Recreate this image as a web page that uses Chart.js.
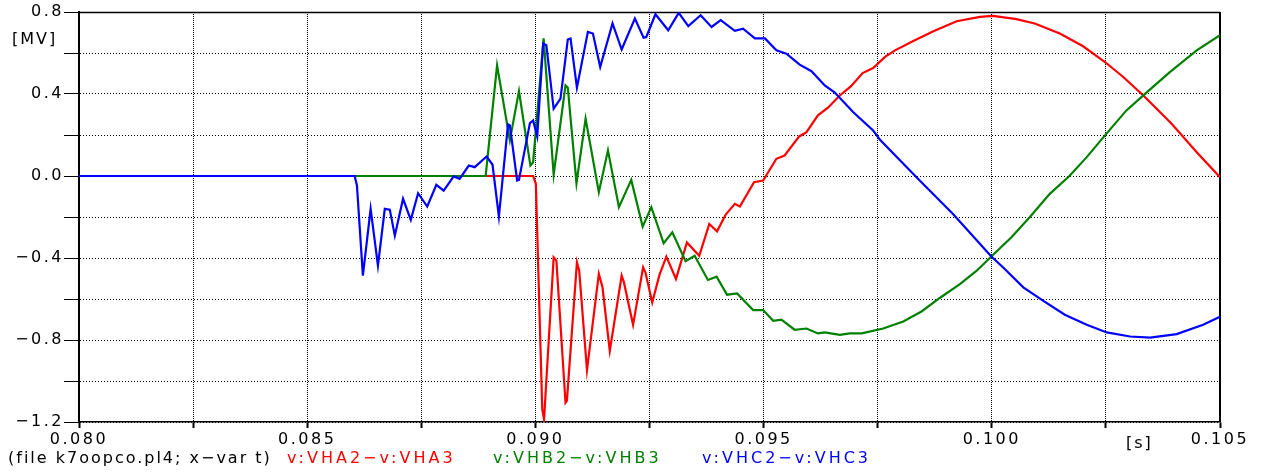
<!DOCTYPE html>
<html>
<head>
<meta charset="utf-8">
<script src="https://cdn.jsdelivr.net/npm/chart.js@4/dist/chart.umd.min.js"></script>
<style>
  html, body { margin: 0; padding: 0; background: #fff; }
  #wrap { position: relative; width: 1271px; height: 475px; overflow: hidden; }
  #plot { position: absolute; left: 0; top: 0; }
  .lbl {
    position: absolute;
    font-family: "DejaVu Sans", sans-serif;
    font-size: 16px;
    line-height: 16px;
    letter-spacing: 2px;
    white-space: nowrap;
  }
  .series { letter-spacing: 3px; }
</style>
</head>
<body>
<div id="wrap">
  <canvas id="plot" width="1271" height="475"></canvas>
  <div class="lbl" style="left:12px; top:31px;">[MV]</div>
  <div class="lbl" style="left:1126px; top:435px;">[s]</div>
  <div class="lbl" style="left:8px; top:450px;">(file k7oopco.pl4; x−var t)</div>
  <div class="lbl series" style="left:287px; top:450px; color:#ff0000;">v:VHA2−v:VHA3</div>
  <div class="lbl series" style="left:493px; top:450px; color:#008000;">v:VHB2−v:VHB3</div>
  <div class="lbl series" style="left:702px; top:450px; color:#0000ff;">v:VHC2−v:VHC3</div>
</div>
<script>
// time [s], voltage [MV]
const VHA = [
  [0.0800, 0], [0.08995, 0], [0.09001, -0.038], [0.09015, -1.138], [0.09019, -1.187],
  [0.09040, -0.397], [0.09046, -0.413], [0.09066, -1.106], [0.09069, -1.097], [0.09091, -0.421],
  [0.09096, -0.462], [0.09113, -0.947], [0.09139, -0.478], [0.09147, -0.543], [0.09163, -0.853],
  [0.09189, -0.486], [0.09194, -0.519], [0.09214, -0.726], [0.09236, -0.446], [0.09241, -0.470],
  [0.09256, -0.617], [0.09272, -0.481], [0.09287, -0.393], [0.09308, -0.502], [0.09332, -0.324],
  [0.09359, -0.389], [0.09381, -0.234], [0.09398, -0.270], [0.09417, -0.188], [0.09437, -0.136],
  [0.09448, -0.149], [0.09479, -0.030], [0.09499, -0.022], [0.09528, 0.084], [0.09546, 0.100],
  [0.09578, 0.193], [0.09594, 0.214], [0.09619, 0.296], [0.09641, 0.333], [0.09667, 0.393],
  [0.09691, 0.437], [0.09717, 0.502], [0.09740, 0.527], [0.09766, 0.581], [0.09788, 0.613],
  [0.09828, 0.659], [0.09872, 0.706], [0.09923, 0.755], [0.09974, 0.776], [0.10003, 0.781],
  [0.10054, 0.765], [0.10094, 0.744], [0.10149, 0.695], [0.10200, 0.633], [0.10248, 0.556],
  [0.10288, 0.483], [0.10332, 0.393], [0.10394, 0.255], [0.10449, 0.116], [0.10500, -0.006]
];

const VHB = [
  [0.0800, 0], [0.08891, 0], [0.08916, 0.540], [0.08944, 0.174], [0.08964, 0.414],
  [0.08989, 0.051], [0.08995, 0.067], [0.09018, 0.671], [0.09040, 0.007], [0.09066, 0.442],
  [0.09071, 0.431], [0.09090, -0.035], [0.09110, 0.280], [0.09139, -0.079], [0.09159, 0.125],
  [0.09183, -0.152], [0.09210, -0.019], [0.09235, -0.247], [0.09254, -0.152], [0.09281, -0.328],
  [0.09300, -0.275], [0.09329, -0.416], [0.09349, -0.389], [0.09378, -0.507], [0.09397, -0.491],
  [0.09420, -0.579], [0.09442, -0.573], [0.09477, -0.654], [0.09499, -0.654], [0.09521, -0.706],
  [0.09539, -0.701], [0.09568, -0.750], [0.09594, -0.744], [0.09619, -0.768], [0.09634, -0.763],
  [0.09667, -0.775], [0.09689, -0.768], [0.09715, -0.768], [0.09762, -0.744], [0.09806, -0.710],
  [0.09846, -0.661], [0.09886, -0.595], [0.09930, -0.527], [0.09967, -0.462], [0.09999, -0.393],
  [0.10043, -0.299], [0.10083, -0.201], [0.10127, -0.087], [0.10170, 0.000], [0.10208, 0.092],
  [0.10248, 0.198], [0.10295, 0.320], [0.10332, 0.393], [0.10390, 0.507], [0.10449, 0.613],
  [0.10500, 0.687]
];

const VHC = [
  [0.0800, 0], [0.08604, 0], [0.08609, -0.046], [0.08622, -0.486], [0.08639, -0.160],
  [0.08655, -0.437], [0.08670, -0.160], [0.08681, -0.164], [0.08692, -0.291], [0.08710, -0.111],
  [0.08727, -0.214], [0.08743, -0.084], [0.08763, -0.149], [0.08783, -0.043], [0.08799, -0.071],
  [0.08821, -0.002], [0.08834, -0.014], [0.08854, 0.051], [0.08867, 0.043], [0.08893, 0.095],
  [0.08906, 0.056], [0.08920, -0.198], [0.08940, 0.252], [0.08944, 0.247], [0.08960, -0.022],
  [0.08964, -0.019], [0.08988, 0.258], [0.08995, 0.271], [0.09004, 0.193], [0.09017, 0.646],
  [0.09024, 0.638], [0.09040, 0.328], [0.09055, 0.377], [0.09071, 0.666], [0.09077, 0.671],
  [0.09091, 0.431], [0.09115, 0.703], [0.09126, 0.695], [0.09142, 0.532], [0.09169, 0.744],
  [0.09189, 0.617], [0.09218, 0.768], [0.09237, 0.675], [0.09243, 0.678], [0.09263, 0.789],
  [0.09291, 0.711], [0.09314, 0.796], [0.09335, 0.731], [0.09362, 0.784], [0.09386, 0.727],
  [0.09406, 0.760], [0.09437, 0.708], [0.09455, 0.719], [0.09481, 0.671], [0.09503, 0.671],
  [0.09528, 0.613], [0.09550, 0.597], [0.09579, 0.543], [0.09605, 0.511], [0.09634, 0.442],
  [0.09656, 0.407], [0.09696, 0.312], [0.09740, 0.222], [0.09755, 0.177], [0.09842, -0.022],
  [0.09915, -0.185], [0.09999, -0.393], [0.10025, -0.446], [0.10069, -0.543], [0.10113, -0.609],
  [0.10160, -0.677], [0.10208, -0.726], [0.10252, -0.763], [0.10303, -0.783], [0.10347, -0.788],
  [0.10405, -0.771], [0.10463, -0.726], [0.10500, -0.687]
];

const X_MIN = 0.080, X_MAX = 0.105, X_STEP = 0.0025;
const Y_MIN = -1.2, Y_MAX = 0.8, Y_STEP = 0.2;

const toPoints = (rows) => rows.map(([t, v]) => ({ x: t, y: v }));

// wide spaced lettering for all canvas text
const spacing = {
  id: 'spacing',
  beforeLayout(chart) { chart.ctx.letterSpacing = '2.5px'; },
  beforeDraw(chart) { chart.ctx.letterSpacing = '2.5px'; },
};

// top and right edges of the plot frame
const frame = {
  id: 'frame',
  beforeDatasetsDraw(chart) {
    const { ctx, chartArea: a } = chart;
    ctx.save();
    ctx.strokeStyle = '#000';
    ctx.lineWidth = 1.3;
    ctx.beginPath();
    ctx.moveTo(a.left, a.top + 0.5);
    ctx.lineTo(a.right, a.top + 0.5);
    ctx.stroke();
    ctx.lineWidth = 2;
    ctx.beginPath();
    ctx.moveTo(a.right, a.top);
    ctx.lineTo(a.right, a.bottom);
    ctx.stroke();
    ctx.restore();
  },
};

const line = (label, rows, color, order) => ({
  label,
  data: toPoints(rows),
  borderColor: color,
  backgroundColor: color,
  borderWidth: 2.2,
  pointRadius: 0,
  tension: 0,
  fill: false,
  order,
});

Chart.defaults.font.family = '"DejaVu Sans", sans-serif';
Chart.defaults.font.size = 16;
Chart.defaults.color = '#000';

new Chart(document.getElementById('plot'), {
  type: 'line',
  data: {
    datasets: [
      line('v:VHA2-v:VHA3', VHA, '#ff0000', 3),
      line('v:VHB2-v:VHB3', VHB, '#008000', 2),
      line('v:VHC2-v:VHC3', VHC, '#0000ff', 1),
    ],
  },
  plugins: [spacing, frame],
  options: {
    responsive: false,
    animation: false,
    layout: { padding: { top: 12, right: 51, bottom: 23, left: 0 } },
    plugins: { legend: { display: false }, tooltip: { enabled: false } },
    scales: {
      x: {
        type: 'linear',
        min: X_MIN,
        max: X_MAX,
        afterFit: (s) => { s.height = 30; },
        ticks: {
          stepSize: X_STEP,
          padding: 2,
          maxRotation: 0,
          autoSkip: false,
          callback: (v) => {
            const k = Math.round((v - X_MIN) / X_STEP);
            return k % 2 === 0 ? v.toFixed(3) : '';
          },
        },
        grid: {
          color: '#000',
          lineWidth: 1,
          tickLength: 6,
          tickWidth: 2,
          tickColor: '#000',
          tickBorderDash: [],
        },
        border: { display: true, color: '#000', width: 1.5, dash: [1, 1] },
      },
      y: {
        min: Y_MIN,
        max: Y_MAX,
        afterFit: (s) => { s.width = 79; },
        ticks: {
          stepSize: Y_STEP,
          padding: 0,
          autoSkip: false,
          callback: (v) => {
            const k = Math.round(v / Y_STEP);
            if (k % 2 !== 0) return '';
            if (k === 0) return '0.0';
            return (v < 0 ? '\u2212' : '') + Math.abs(v).toFixed(1);
          },
        },
        grid: {
          color: '#000',
          lineWidth: 1,
          tickLength: 15,
          tickWidth: 1,
          tickColor: '#000',
          tickBorderDash: [],
        },
        border: { display: true, color: '#000', width: 2, dash: [1, 2] },
      },
    },
  },
});
</script>
</body>
</html>
